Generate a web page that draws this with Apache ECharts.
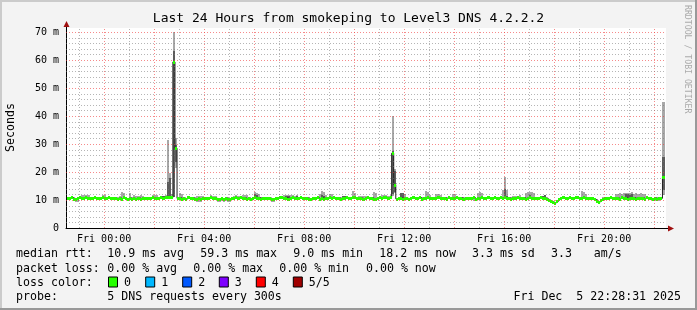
<!DOCTYPE html>
<html><head><meta charset="utf-8">
<script src="https://cdn.jsdelivr.net/npm/echarts@6/dist/echarts.min.js"></script>
<style>html,body{margin:0;padding:0;background:#f3f3f3;}#c{width:697px;height:310px;}</style>
</head><body><div id="c"></div>
<script>
// ---- data (5-minute samples, hours relative to Fri 00:00) ----
const START_HOUR = -1.5;          // first sample starts Thu 22:30
const STEP = 1 / 12;              // 5 minutes
const median = [
 10.8,10.7,10.9,10.4,10.3,10.6,10.9,10.8,10.7,10.9,10.6,10.8,
 10.7,10.9,10.8,10.8,10.6,10.9,10.7,10.8,10.9,10.7,10.8,10.6,
 10.5,10.8,10.4,10.9,10.6,10.3,10.7,10.5,10.6,10.3,10.8,10.5,
 10.7,10.6,10.8,10.7,10.7,10.9,10.6,10.8,10.7,10.9,10.8,10.9,
 10.9,10.9,10.9,59.3,28.5,10.6,10.8,10.5,10.7,10.4,10.9,10.6,
 10.8,10.5,10.3,10.6,10.4,10.7,10.6,10.8,10.7,10.9,10.6,10.7,
 10.4,10.2,10.6,10.3,10.7,10.5,10.4,10.7,10.6,10.9,10.8,10.9,
 10.6,10.8,10.5,10.8,10.4,10.7,10.9,10.6,10.8,10.5,10.7,10.8,
 10.6,10.8,10.4,10.3,10.7,10.8,10.9,10.9,10.6,10.8,10.5,10.7,
 10.9,10.7,10.8,10.6,10.9,10.8,10.7,10.7,10.5,10.4,10.8,10.6,
 10.9,10.4,10.7,10.5,10.8,10.6,10.9,10.8,10.9,10.7,10.8,10.5,
 10.8,10.6,10.9,10.8,10.7,10.9,10.9,10.8,10.6,10.7,10.5,10.8,
 10.9,10.6,10.8,10.5,10.4,10.7,10.9,10.8,10.9,10.9,10.8,11.0,
 26.7,15.5,10.4,10.6,10.7,10.5,10.8,10.6,10.4,10.8,10.9,10.7,
 10.6,10.9,10.5,10.8,10.7,10.9,10.6,10.8,10.6,10.7,10.9,10.6,
 10.7,10.8,10.5,10.9,10.6,10.8,10.7,10.9,10.6,10.8,10.5,10.8,
 10.7,10.8,10.6,10.9,10.4,10.7,10.8,10.9,10.7,10.8,10.9,10.8,
 10.8,10.9,10.6,10.8,10.9,10.8,10.9,10.8,10.7,10.5,10.8,10.6,
 10.9,10.7,10.6,10.8,10.5,10.7,10.9,10.8,10.6,10.8,10.7,10.9,
 10.6,10.7,10.5,10.1,9.6,9.3,9.0,9.5,10.2,10.6,10.9,10.7,
 10.8,10.9,10.6,10.8,10.9,10.9,10.8,10.6,10.9,10.7,10.8,10.6,
 10.6,10.2,9.8,9.2,9.9,10.5,10.7,10.6,10.8,10.9,10.6,10.8,
 10.8,10.5,10.9,10.6,10.8,10.4,10.7,10.6,10.8,10.5,10.7,10.6,
 10.8,10.5,10.9,10.7,10.6,10.4,10.7,10.5,10.8,10.6,18.2
];
const smokeMax = [
 11.2,11.1,11.3,11.0,10.8,11.1,11.3,11.8,11.9,11.8,11.7,11.2,
 11.1,11.3,11.2,11.2,11.0,11.8,11.9,11.2,11.3,11.1,11.2,11.0,
 10.9,11.3,13.0,12.6,11.0,10.8,12.4,11.0,11.7,11.6,11.4,11.7,
 11.6,11.0,11.2,11.1,11.1,11.8,11.9,11.7,11.1,11.6,11.5,11.8,
 31.4,19.5,12.0,70.0,32.0,11.0,12.4,12.3,11.1,10.8,11.3,11.0,
 11.2,10.9,11.5,11.6,11.4,11.6,11.0,11.2,11.1,11.7,11.6,11.6,
 10.8,10.6,11.0,10.7,11.1,10.9,10.8,11.1,11.6,11.8,11.6,11.3,
 11.8,11.8,11.7,11.2,10.8,11.1,12.7,12.6,12.3,10.9,11.1,11.2,
 11.0,11.2,10.8,10.7,11.1,11.2,11.3,11.3,11.8,11.8,11.7,11.8,
 11.7,11.6,11.8,11.0,11.3,11.2,11.1,11.1,10.9,10.8,11.2,11.0,
 11.3,12.0,13.2,12.9,11.9,11.0,12.2,12.1,11.3,11.1,11.2,10.9,
 11.6,11.6,11.3,11.2,11.1,13.2,12.4,11.2,11.6,11.5,11.6,11.4,
 11.3,11.0,11.2,12.7,12.6,11.1,11.3,11.9,11.8,11.9,11.6,11.8,
 40.0,21.2,10.8,11.0,12.6,12.5,12.2,11.0,10.8,11.2,11.3,11.1,
 11.0,11.3,10.9,11.2,13.2,12.8,11.8,11.2,11.0,12.2,12.2,11.8,
 11.1,11.2,10.9,11.3,11.0,12.2,12.0,11.3,11.0,11.2,10.9,11.2,
 11.1,11.2,11.0,11.3,10.8,12.4,13.0,12.6,11.1,11.2,11.3,11.2,
 11.2,11.3,11.0,11.2,11.3,13.5,18.1,13.6,11.1,10.9,11.6,11.6,
 11.6,11.7,11.0,11.2,12.6,13.0,12.8,12.7,12.5,11.2,11.1,11.3,
 11.6,11.8,11.0,10.5,10.0,9.7,9.4,9.9,10.6,11.0,11.3,11.1,
 11.2,11.3,11.0,11.2,11.3,11.3,11.2,13.2,12.9,12.0,11.2,11.0,
 11.0,10.6,10.2,9.6,10.3,10.9,11.1,11.0,11.2,11.3,11.0,12.2,
 12.3,12.4,12.2,12.6,12.5,12.6,12.4,12.7,12.3,12.5,12.2,12.4,
 12.3,12.1,11.3,11.1,11.0,10.8,11.1,10.9,11.2,11.0,45.1
];
const smokeMin = [
 10.4,10.4,10.5,9.9,9.4,9.4,10.5,10.4,10.3,10.5,10.2,10.4,
 10.3,10.5,10.4,10.4,10.2,10.5,10.3,10.4,10.5,10.3,10.4,10.2,
 10.1,10.4,10.0,10.5,10.2,9.8,10.3,10.1,10.2,9.6,10.4,10.1,
 10.3,10.2,10.4,10.3,10.3,10.5,10.2,10.4,10.3,10.5,10.4,10.5,
 10.4,10.5,10.5,11.0,21.5,10.2,10.4,10.1,10.3,10.0,10.5,10.2,
 10.4,10.1,9.3,9.4,9.4,10.3,10.2,10.4,10.3,10.5,10.2,10.3,
 9.4,9.3,9.5,9.3,9.6,9.4,9.4,10.3,10.2,10.5,10.4,10.5,
 10.2,10.4,10.1,10.4,10.0,10.3,10.5,10.2,10.4,10.1,10.3,10.4,
 10.2,10.4,9.3,9.3,10.3,10.4,10.5,10.5,10.2,10.4,10.1,10.3,
 10.5,10.3,10.4,10.2,10.5,10.4,10.3,10.3,10.1,10.0,10.4,10.2,
 10.5,10.0,10.3,10.1,10.4,10.2,10.5,10.4,10.5,10.3,10.4,10.1,
 10.4,10.2,10.5,10.4,10.3,10.5,10.5,10.4,10.2,10.3,10.1,10.4,
 10.5,10.2,10.4,10.1,10.0,10.3,10.5,10.4,10.5,10.5,10.4,10.6,
 11.5,12.5,10.0,10.2,10.3,10.1,10.4,10.2,10.0,10.4,10.5,10.3,
 10.2,10.5,10.1,10.4,10.3,10.5,10.2,10.4,10.2,10.3,10.5,10.2,
 10.3,10.4,10.1,10.5,10.2,10.4,10.3,10.5,10.2,10.4,10.1,10.4,
 10.3,10.4,10.2,9.5,9.5,10.3,10.4,10.5,10.3,10.4,10.5,10.4,
 10.4,10.5,10.2,10.4,10.5,10.4,10.5,10.4,10.3,10.1,10.4,10.2,
 10.5,10.3,10.2,10.4,10.1,10.3,10.5,10.4,10.2,10.4,10.3,10.5,
 10.2,10.3,10.1,9.7,9.2,8.9,8.6,9.1,9.8,10.2,10.5,10.3,
 10.4,10.5,10.2,10.4,10.5,10.5,10.4,10.2,10.5,10.3,10.4,10.2,
 10.2,9.8,9.4,8.8,9.5,10.1,10.3,10.2,10.4,10.5,10.2,10.4,
 10.4,10.1,10.5,10.2,10.4,10.0,10.3,10.2,10.4,10.1,10.3,10.2,
 10.4,10.1,10.5,10.3,10.2,9.6,9.7,9.6,9.8,10.2,11.8
];
// inner (darker) smoke band where it shows: [sample index, low, high]
const darkSmoke = [
 [45,10.7,11.4],[46,10.6,11.3],[48,10.7,16.5],[49,10.7,18.0],[51,11.2,63.2],[52,23.7,29.6],
 [90,10.7,12.0],[91,10.6,11.8],[105,10.8,11.5],[106,10.5,11.4],[110,10.7,11.5],
 [122,10.6,11.8],[123,10.5,11.6],[132,10.8,11.6],[133,10.6,11.6],[153,10.8,11.5],[155,10.8,11.5],
 [156,12.0,27.5],[157,13.0,20.5],[160,10.6,12.6],[161,10.5,12.5],
 [210,10.8,14.0],[211,10.7,11.6],[222,10.8,11.8],[228,10.7,11.6],[229,10.8,11.8],
 [268,10.9,12.1],[269,10.7,12.0],[270,10.8,11.9],[271,10.8,12.1],[286,13.6,25.5]
];
const xTickHours = [0, 4, 8, 12, 16, 20];
const xTickLabels = ['Fri 00:00','Fri 04:00','Fri 08:00','Fri 12:00','Fri 16:00','Fri 20:00'];
const yTicks = [0, 10, 20, 30, 40, 50, 60, 70];
const yTickLabels = ['0','10 m','20 m','30 m','40 m','50 m','60 m','70 m'];
const titleText = 'Last 24 Hours from smokeping to Level3 DNS 4.2.2.2';
const legendRtt = ['median rtt:','10.9 ms avg','59.3 ms max','9.0 ms min','18.2 ms now','3.3 ms sd','3.3','am/s'];
const legendLoss = ['packet loss:','0.00 % avg','0.00 % max','0.00 % min','0.00 % now'];
const lossLabels = ['0','1','2','3','4','5/5'];
const lossColors = ['#26ff00','#00b8ff','#0059ff','#7e00ff','#ff0000','#a10000'];
const probeText = ['probe:','5 DNS requests every 300s'];
const dateText = 'Fri Dec  5 22:28:31 2025';

// ---- chart ----
const X_MIN = -1.525, X_MAX = 22.475, Y_MAX = 71.43;
const FONT = '"DejaVu Sans Mono", monospace';
const chart = echarts.init(document.getElementById('c'), null, {renderer: 'canvas', width: 697, height: 310});

const smokeData = median.map((_, i) => [START_HOUR + i * STEP, smokeMin[i], smokeMax[i]]);
const darkData = darkSmoke.map(d => [START_HOUR + d[0] * STEP, d[1], d[2]]);
const medData = median.map((v, i) => [START_HOUR + i * STEP, v]);
const lineData = medData.concat([[START_HOUR + median.length * STEP, median[median.length - 1]]]);

const vGrid = []; for (let h = -1; h <= 22; h++) vGrid.push([h, h % 2 === 0 ? 1 : 0]);
const hGrid = []; for (let v = 2; v <= 70; v += 2) hGrid.push([v, v % 10 === 0 ? 1 : 0]);
const MINOR = 'rgba(120,120,120,0.55)', MAJOR = 'rgba(240,60,60,0.6)';

function bandItem(color) {
  return function (params, api) {
    const t = api.value(0);
    const a = api.coord([t, api.value(2)]);
    const b = api.coord([t + STEP, api.value(1)]);
    const x0 = Math.round(a[0]), x1 = Math.round(b[0]);
    const y0 = Math.round(a[1]); const y1 = Math.max(Math.round(b[1]), y0 + 1);
    return {type: 'rect', shape: {x: x0, y: y0, width: x1 - x0, height: y1 - y0}, style: {fill: color}};
  };
}

const g = [];
function txt(x, y, text, opts) {
  g.push(Object.assign({type: 'text', x: x, y: y, silent: true,
    style: Object.assign({text: text, font: '11.6px ' + FONT, fill: '#000', verticalAlign: 'middle', align: 'left'}, opts || {})}));
}
// frame
g.push({type: 'rect', shape: {x: 0, y: 0, width: 697, height: 2}, style: {fill: '#cbcbcb'}, silent: true});
g.push({type: 'rect', shape: {x: 0, y: 0, width: 2, height: 310}, style: {fill: '#cbcbcb'}, silent: true});
g.push({type: 'rect', shape: {x: 0, y: 308, width: 697, height: 2}, style: {fill: '#999999'}, silent: true});
g.push({type: 'rect', shape: {x: 695, y: 0, width: 2, height: 310}, style: {fill: '#999999'}, silent: true});
// axis extensions + arrows
g.push({type: 'line', shape: {x1: 66.5, y1: 28, x2: 66.5, y2: 25}, style: {stroke: '#000', lineWidth: 1}, silent: true});
g.push({type: 'line', shape: {x1: 666, y1: 228.5, x2: 669, y2: 228.5}, style: {stroke: '#000', lineWidth: 1}, silent: true});
g.push({type: 'polygon', shape: {points: [[63.5, 27], [69.5, 27], [66.5, 21]]}, style: {fill: '#a01010'}, silent: true, z: 10});
g.push({type: 'polygon', shape: {points: [[668, 225.5], [668, 231.5], [674, 228.5]]}, style: {fill: '#a01010'}, silent: true, z: 10});
txt(348.5, 19, titleText, {font: '13px ' + FONT, align: 'center'});
g.push({type: 'text', x: 11, y: 127.5, rotation: Math.PI / 2, silent: true,
  style: {text: 'Seconds', font: '11.6px ' + FONT, fill: '#000', align: 'center', verticalAlign: 'middle'}});
g.push({type: 'text', x: 687, y: 5, rotation: -Math.PI / 2, silent: true,
  style: {text: 'RRDTOOL / TOBI OETIKER', font: '8.2px ' + FONT, fill: '#aaaaaa', align: 'left', verticalAlign: 'middle'}});
const rttX = [16, 107.3, 200.3, 293.3, 379.3, 472, 551, 593.7];
legendRtt.forEach((s, i) => txt(rttX[i], 254, s));
const lossX = [16, 107.3, 193.3, 279.3, 366];
legendLoss.forEach((s, i) => txt(lossX[i], 268.5, s));
txt(16, 282.5, 'loss color:');
const boxX = [108.5, 145.7, 182.7, 219.3, 256.3, 293.3];
lossLabels.forEach((s, i) => {
  g.push({type: 'rect', shape: {x: boxX[i], y: 277, width: 9, height: 10}, silent: true,
    style: {fill: lossColors[i], stroke: '#000', lineWidth: 1}});
  txt(boxX[i] + 15.5, 282.5, s);
});
txt(16, 296.5, probeText[0]);
txt(107.3, 296.5, probeText[1]);
txt(681, 296.5, dateText, {align: 'right'});

chart.setOption({
  animation: false,
  backgroundColor: '#f3f3f3',
  grid: {left: 66, right: 31, top: 28, bottom: 82, show: true, backgroundColor: '#ffffff', borderWidth: 0},
  xAxis: {
    type: 'value', min: X_MIN, max: X_MAX,
    axisLine: {show: true, onZero: false, lineStyle: {color: '#000', width: 1}},
    axisTick: {show: false}, splitLine: {show: false},
    axisLabel: {customValues: xTickHours, fontFamily: FONT, fontSize: 10, color: '#000', margin: 6,
      formatter: v => xTickLabels[xTickHours.indexOf(v)] || ''}
  },
  yAxis: {
    type: 'value', min: 0, max: Y_MAX,
    axisLine: {show: true, onZero: false, lineStyle: {color: '#000', width: 1}},
    axisTick: {show: false}, splitLine: {show: false},
    axisLabel: {customValues: yTicks, fontFamily: FONT, fontSize: 10, color: '#000', margin: 7,
      formatter: v => yTickLabels[yTicks.indexOf(v)] || ''}
  },
  graphic: {elements: g},
  series: [
    {type: 'custom', name: 'smoke', data: smokeData, z: 2, clip: true, renderItem: bandItem('#a8a8a8')},
    {type: 'custom', name: 'smoke inner', data: darkData, z: 3, clip: true, renderItem: bandItem('#5c5c5c')},
    {type: 'line', name: 'median', data: lineData, step: 'end', symbol: 'none', z: 4,
      lineStyle: {color: '#202020', width: 1}},
    {type: 'custom', name: 'loss 0', data: medData, z: 5, clip: true,
      renderItem: function (params, api) {
        const t = api.value(0);
        const a = api.coord([t, api.value(1)]);
        const b = api.coord([t + STEP, api.value(1)]);
        const x0 = Math.round(a[0]), x1 = Math.round(b[0]); const yc = Math.round(a[1]);
        return {type: 'rect', shape: {x: x0, y: yc - 1, width: x1 - x0, height: 3}, style: {fill: '#26ff00'}};
      }},
    {type: 'custom', name: 'vgrid', data: vGrid, z: 6, silent: true,
      renderItem: function (params, api) {
        const a = api.coord([api.value(0), 0]), b = api.coord([api.value(0), Y_MAX]);
        const x = Math.round(a[0]) + 0.5;
        return {type: 'line', shape: {x1: x, y1: a[1], x2: x, y2: b[1]},
          style: {stroke: api.value(1) ? MAJOR : MINOR, lineWidth: 1, lineDash: [1, 2]}};
      }},
    {type: 'custom', name: 'hgrid', data: hGrid, z: 6, silent: true,
      renderItem: function (params, api) {
        const a = api.coord([X_MIN, api.value(0)]), b = api.coord([X_MAX, api.value(0)]);
        const y = Math.round(a[1]) + 0.5;
        return {type: 'line', shape: {x1: a[0], y1: y, x2: b[0], y2: y},
          style: {stroke: api.value(1) ? MAJOR : MINOR, lineWidth: 1, lineDash: [1, 2]}};
      }}
  ]
});
</script></body></html>
